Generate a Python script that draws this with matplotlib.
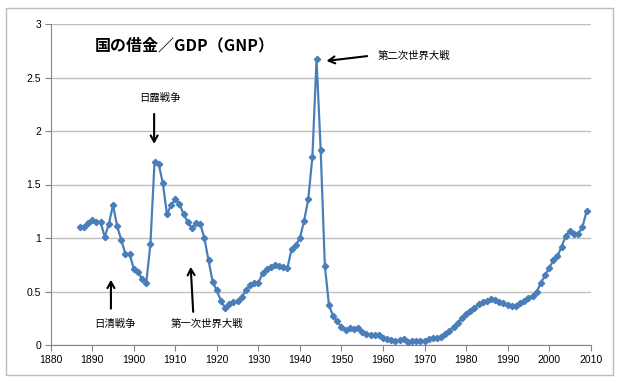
from __future__ import annotations

import matplotlib

matplotlib.use("Agg")
import matplotlib.pyplot as plt
from matplotlib.patches import Rectangle
from matplotlib.ticker import FuncFormatter, MultipleLocator


FONT_LIST = ["Liberation Sans", "Noto Sans CJK JP", "DejaVu Sans"]
JP_FONT = ["Noto Sans CJK JP", "DejaVu Sans"]
LINE_COLOR = "#4a7ebb"

TITLE = "国の借金／GDP（GNP）"

YEARS = list(range(1887, 2010))

DEBT_RATIO = [
	1.10, 1.10, 1.14, 1.17, 1.15, 1.15, 1.01, 1.13, 1.31, 1.11,  # 1887-1896
	0.98, 0.85, 0.85, 0.71, 0.68, 0.62, 0.58, 0.94, 1.71, 1.69,  # 1897-1906
	1.51, 1.22, 1.31, 1.36, 1.32, 1.22, 1.15, 1.09, 1.14, 1.13,  # 1907-1916
	1.00, 0.79, 0.59, 0.51, 0.41, 0.35, 0.38, 0.40, 0.41, 0.45,  # 1917-1926
	0.51, 0.56, 0.58, 0.58, 0.67, 0.71, 0.73, 0.75, 0.74, 0.73,  # 1927-1936
	0.72, 0.90, 0.93, 1.00, 1.16, 1.36, 1.76, 2.67, 1.82, 0.74,  # 1937-1946
	0.37, 0.27, 0.22, 0.17, 0.14, 0.16, 0.15, 0.155, 0.12, 0.10,  # 1947-1956
	0.09, 0.09, 0.09, 0.07, 0.055, 0.05, 0.04, 0.045, 0.055, 0.03,  # 1957-1966
	0.04, 0.04, 0.04, 0.04, 0.055, 0.065, 0.065, 0.075, 0.10, 0.13,  # 1967-1976
	0.17, 0.21, 0.25, 0.29, 0.32, 0.35, 0.38, 0.40, 0.41, 0.43,  # 1977-1986
	0.42, 0.40, 0.39, 0.37, 0.36, 0.36, 0.39, 0.41, 0.44, 0.46,  # 1987-1996
	0.50, 0.58, 0.65, 0.72, 0.79, 0.83, 0.92, 1.02, 1.07, 1.04,  # 1997-2006
	1.04, 1.10, 1.25,  # 2007-2009
]

# label text, text position, arrow tail, arrow tip (data units)
EVENT_LABELS = ["日露戦争", "日清戦争", "第一次世界大戦", "第二次世界大戦"]
EVENT_TEXT_POS = [(1906.3, 2.31), (1895.5, 0.20), (1917.6, 0.20), (1958.8, 2.70)]
EVENT_ARROW_FROM = [(1904.9, 2.16), (1894.5, 0.34), (1914.3, 0.31), (1956.2, 2.70)]
EVENT_ARROW_TO = [(1904.9, 1.88), (1894.5, 0.61), (1913.7, 0.73), (1946.4, 2.655)]
EVENT_ALIGN = ["center", "center", "center", "left"]


def y_label(value: float, _pos: int) -> str:
	return f"{value:g}"


def draw_chart() -> None:
	plt.rcParams["font.family"] = FONT_LIST
	fig = plt.figure(figsize=(6.2, 3.83), dpi=100)

	# outer chart frame like the spreadsheet chart area
	fig.patches.append(
		Rectangle(
			(6 / 620, 1 - 375 / 383), 607 / 620, 367 / 383,
			transform=fig.transFigure, fill=False, edgecolor="#bcbcbc", linewidth=1.0,
		)
	)

	ax = fig.add_axes([50.7 / 620, 1 - 345 / 383, 540 / 620, 321 / 383])
	ax.set_xlim(1880, 2010)
	ax.set_ylim(0, 3)
	ax.xaxis.set_major_locator(MultipleLocator(10))
	ax.yaxis.set_major_locator(MultipleLocator(0.5))
	ax.yaxis.set_major_formatter(FuncFormatter(y_label))

	ax.grid(True, axis="y", color="#bfbfbf", linewidth=1.0)
	ax.set_axisbelow(True)
	for side in ("top", "right"):
		ax.spines[side].set_visible(False)
	for side in ("left", "bottom"):
		ax.spines[side].set_color("#868686")
		ax.spines[side].set_linewidth(0.8)
	ax.tick_params(direction="out", length=4, width=0.8, color="#868686", labelsize=7.5, pad=3)

	ax.plot(
		YEARS, DEBT_RATIO, color=LINE_COLOR, linewidth=1.6,
		marker="D", markersize=3.2, markerfacecolor=LINE_COLOR, markeredgecolor=LINE_COLOR,
		clip_on=False, zorder=3,
	)

	ax.text(1890.7, 2.80, TITLE, family=JP_FONT, fontsize=11.5, fontweight="bold", va="center", ha="left")

	for label, text_pos, tail, tip, align in zip(
		EVENT_LABELS, EVENT_TEXT_POS, EVENT_ARROW_FROM, EVENT_ARROW_TO, EVENT_ALIGN
	):
		ax.text(text_pos[0], text_pos[1], label, family=JP_FONT, fontsize=7.5, ha=align, va="center")
		ax.annotate(
			"", xy=tip, xytext=tail,
			arrowprops=dict(arrowstyle="->,head_length=0.45,head_width=0.25", color="black", lw=1.5, shrinkA=0, shrinkB=0),
		)

	fig.savefig("out.png", dpi=100)


def main() -> None:
	draw_chart()


if __name__ == "__main__":
	main()
